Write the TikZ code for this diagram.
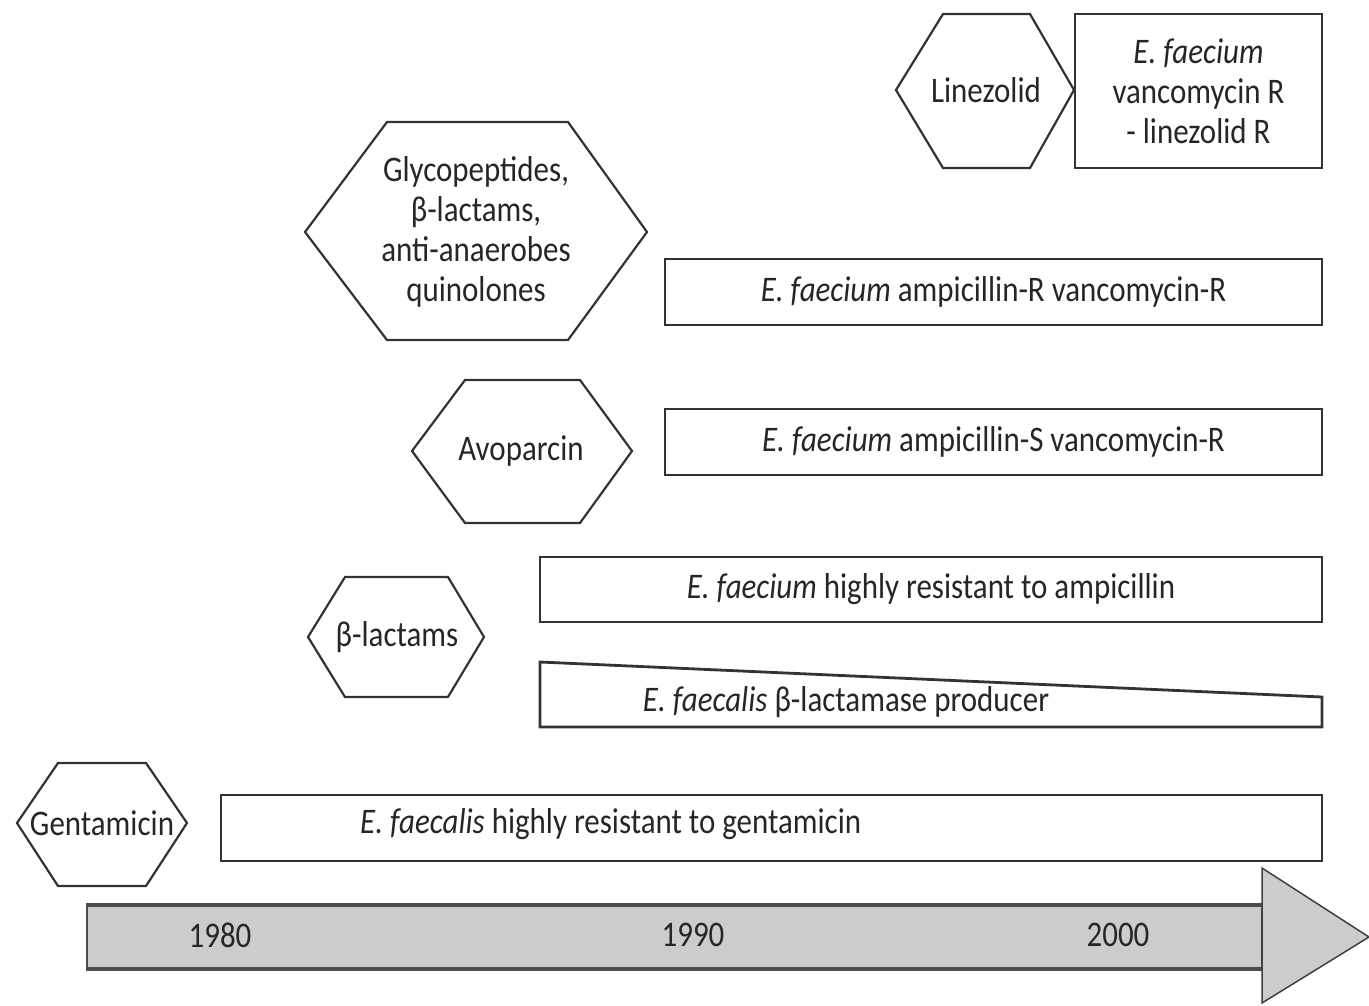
\documentclass[tikz,border=0pt]{standalone}
\usepackage{fontspec}
\setmainfont{Carlito}[FakeStretch=0.86]
\tikzset{
  lbl/.style={font=\fontsize{36}{40}\selectfont, align=center, text=black!85, inner sep=0pt},
  frame/.style={draw=black!80, line width=2.8pt, inner sep=0pt},
  hexa/.style={draw=black!80, line width=2.2pt, line join=miter},
}
\newcommand\hexshape[7]{\draw[hexa] (#1,#6) -- (#2,#5) -- (#3,#5) -- (#4,#6) -- (#3,#7) -- (#2,#7) -- cycle;}
\begin{document}
\begin{tikzpicture}[x=1pt,y=-1pt]
\useasboundingbox (0,0) rectangle (1369,1005);
% timeline arrow
\filldraw[fill=black!20, draw=black!70, line width=1.5pt] (87,904) rectangle (1262,970);
\draw[black!70, line width=4pt] (87,905) -- (1262,905) (87,969) -- (1262,969);
\filldraw[fill=black!20, draw=black!75, line width=1.5pt] (1262,868) -- (1369,937) -- (1262,1003) -- cycle;
\node[lbl] (y80) at (220,935) {1980};
\node[lbl] (y90) at (693,935) {1990};
\node[lbl] (y00) at (1118,935) {2000};
% hexagons
\hexshape{17}{58}{146}{187}{763}{823}{886}
\node[lbl] (gen) at (102,823) {Gentamicin};
\hexshape{308}{345}{448}{484}{577}{637}{697}
\node[lbl] (blac) at (397,637) {β-lactams};
\hexshape{412}{465}{580}{632}{380}{451}{523}
\node[lbl] (avo) at (521,451) {Avoparcin};
\hexshape{305}{387}{568}{647}{122}{232}{340}
\node[lbl] (gly) at (476,232) {Glycopeptides,\\β-lactams,\\anti-anaerobes\\quinolones};
\hexshape{896}{943}{1030}{1074}{14}{90}{168}
\node[lbl] (lin) at (986,90) {Linezolid};
% boxes
\node[frame, minimum width=247pt, minimum height=154pt] (b1) at (1198.5,91) {};
\node[lbl] (t1) at (b1.center) {\itshape E. faecium\\vancomycin R\\- linezolid R};
\node[frame, minimum width=657pt, minimum height=66pt] (b2) at (993.5,292) {};
\node[lbl] (t2) at (b2.center) {\textit{E. faecium} ampicillin-R vancomycin-R};
\node[frame, minimum width=657pt, minimum height=66pt] (b3) at (993.5,442) {};
\node[lbl] (t3) at (b3.center) {\textit{E. faecium} ampicillin-S vancomycin-R};
\node[frame, minimum width=782pt, minimum height=65pt] (b4) at (931,589.5) {};
\node[lbl] (t4) at (b4.center) {\textit{E. faecium} highly resistant to ampicillin};
\draw[draw=black!80, line width=2.8pt, line join=miter] (540,662) -- (1322,697) -- (1322,727) -- (540,727) -- cycle;
\node[lbl] (t5) at (846,702) {\textit{E. faecalis} β-lactamase producer};
\node[frame, minimum width=1101pt, minimum height=66pt] (b6) at (771.5,828) {};
\node[lbl, anchor=west] (t6) at (360,824) {\textit{E. faecalis} highly resistant to gentamicin};
\end{tikzpicture}
\end{document}
